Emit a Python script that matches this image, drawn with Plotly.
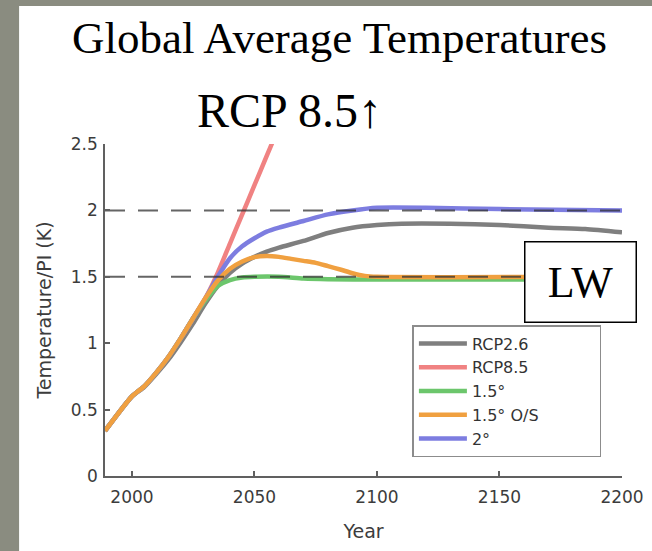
import plotly.graph_objects as go

# ---------------- data ----------------
hist_years = [1989, 2000, 2005, 2010, 2015, 2020, 2025, 2030]
hist_vals = [0.34, 0.60, 0.675, 0.78, 0.90, 1.04, 1.19, 1.34]

rcp26_years = hist_years + [2035, 2040, 2045, 2050, 2055, 2060, 2070, 2080, 2090, 2100, 2110, 2130, 2150, 2170, 2185, 2200]
rcp26_vals = [0.34, 0.60, 0.67, 0.77, 0.88, 1.01, 1.15, 1.30,
              1.43, 1.53, 1.60, 1.65, 1.69, 1.72, 1.77, 1.83, 1.87, 1.89, 1.90, 1.90, 1.89, 1.87, 1.86, 1.835]

rcp85_years = hist_years + [2035, 2040, 2045, 2050, 2055, 2060]
rcp85_vals = hist_vals + [1.53, 1.75, 1.97, 2.19, 2.41, 2.63]

p15_years = hist_years + [2035, 2040, 2045, 2050, 2060, 2070, 2080, 2100, 2150, 2200]
p15_vals = hist_vals[:-1] + [1.32, 1.43, 1.475, 1.495, 1.50, 1.50, 1.487, 1.482, 1.48, 1.48, 1.48]

p15os_years = hist_years + [2035, 2040, 2045, 2050, 2055, 2060, 2065, 2070, 2075, 2080, 2085, 2090, 2095, 2100, 2200]
p15os_vals = hist_vals + [1.47, 1.56, 1.615, 1.648, 1.657, 1.65, 1.635, 1.62, 1.605, 1.58, 1.555, 1.527, 1.507, 1.50, 1.50]

p2_years = hist_years + [2035, 2040, 2045, 2050, 2055, 2060, 2070, 2080, 2090, 2100, 2120, 2150, 2200]
p2_vals = hist_vals + [1.50, 1.64, 1.73, 1.79, 1.84, 1.87, 1.92, 1.97, 2.00, 2.02, 2.02, 2.01, 2.00]

thresholds = [1.5, 2.0]
x_range = [1989, 2200]
x_ticks = [2000, 2050, 2100, 2150, 2200]
y_ticks = [0, 0.5, 1, 1.5, 2, 2.5]
y_ticktext = ["0", "0.5", "1", "1.5", "2", "2.5"]

# ---------------- figure ----------------
W, H = 652, 551
L, R, T, B = 105, 29.5, 144, 75
pw, ph = W - L - R, H - T - B


def px(xp):
    return (xp - L) / pw


def py(yp):
    return (H - B - yp) / ph


fig = go.Figure()

NB = "\u00a0"
series = [
    ("RCP2.6", rcp26_years, rcp26_vals, "#7f7f7f", 1),
    ("RCP8.5", rcp85_years, rcp85_vals, "#f08282", 2),
    ("1.5\u00b0", p15_years, p15_vals, "#6cc66c", 3),
    ("2\u00b0", p2_years, p2_vals, "#7d7de0", 5),
    ("1.5\u00b0 O/S" + NB * 11, p15os_years, p15os_vals, "#f0a040", 4),
]
for name, xs, ys, col, rank in series:
    fig.add_trace(go.Scatter(
        x=xs, y=ys, mode="lines", name=name, legendrank=rank,
        line=dict(color=col, width=4.5, shape="spline", smoothing=0.6),
    ))

for th in thresholds:
    fig.add_trace(go.Scatter(
        x=x_range, y=[th, th], mode="lines", showlegend=False,
        line=dict(color="rgba(50,50,50,0.75)", width=2, dash="20px,13px"),
    ))

axis_common = dict(
    showgrid=False, zeroline=False, showline=True, linecolor="#606060", linewidth=1.5,
    ticks="inside", ticklen=5, tickcolor="#606060", tickwidth=1.5,
    tickfont=dict(family="DejaVu Sans", size=17, color="#3c3c3c"),
)
fig.update_xaxes(range=x_range, tickvals=x_ticks, ticklabelstandoff=5, **axis_common,
                 title=dict(text="Year", font=dict(family="DejaVu Sans", size=19, color="#3c3c3c"), standoff=19))
fig.update_yaxes(range=[0, 2.5], tickvals=y_ticks, ticktext=y_ticktext, ticklabelstandoff=2, **axis_common,
                 title=dict(text="Temperature/PI (K)", font=dict(family="DejaVu Sans", size=19, color="#3c3c3c"), standoff=14))

shapes = [
    dict(type="rect", xref="paper", yref="paper", x0=px(19), x1=px(660), y0=py(560), y1=py(6),
         fillcolor="white", line=dict(width=0), layer="below"),
]

annotations = [
    dict(text="Global Average Temperatures", xref="paper", yref="paper", x=px(339.7), y=py(38),
         xanchor="center", yanchor="middle", showarrow=False,
         font=dict(family="Liberation Serif", size=45, color="black")),
    dict(text="RCP 8.5\u2191", xref="paper", yref="paper", x=px(290), y=py(110),
         xanchor="center", yanchor="middle", showarrow=False,
         font=dict(family="Liberation Serif", size=48, color="black")),
    dict(text="LW", xref="paper", yref="paper", x=px(580.85), y=py(282),
         xanchor="center", yanchor="middle", showarrow=False,
         width=108, height=77, borderpad=1, borderwidth=1.5, bordercolor="black", bgcolor="white",
         font=dict(family="Liberation Serif", size=44, color="black")),
]

fig.update_layout(
    width=W, height=H, margin=dict(l=L, r=R, t=T, b=B, autoexpand=False),
    paper_bgcolor="#8a8c80", plot_bgcolor="white",
    shapes=shapes, annotations=annotations,
    legend=dict(x=px(412.7), y=py(325), xanchor="left", yanchor="top",
                bgcolor="white", bordercolor="#8c8c8c", borderwidth=1.5,
                font=dict(family="DejaVu Sans", size=16, color="#333333"),
                itemwidth=48, traceorder="normal"),
    showlegend=True,
)

fig.write_html("out.html", config={"displayModeBar": False},
               post_script="document.body.style.margin='0';document.body.style.overflow='hidden';")
